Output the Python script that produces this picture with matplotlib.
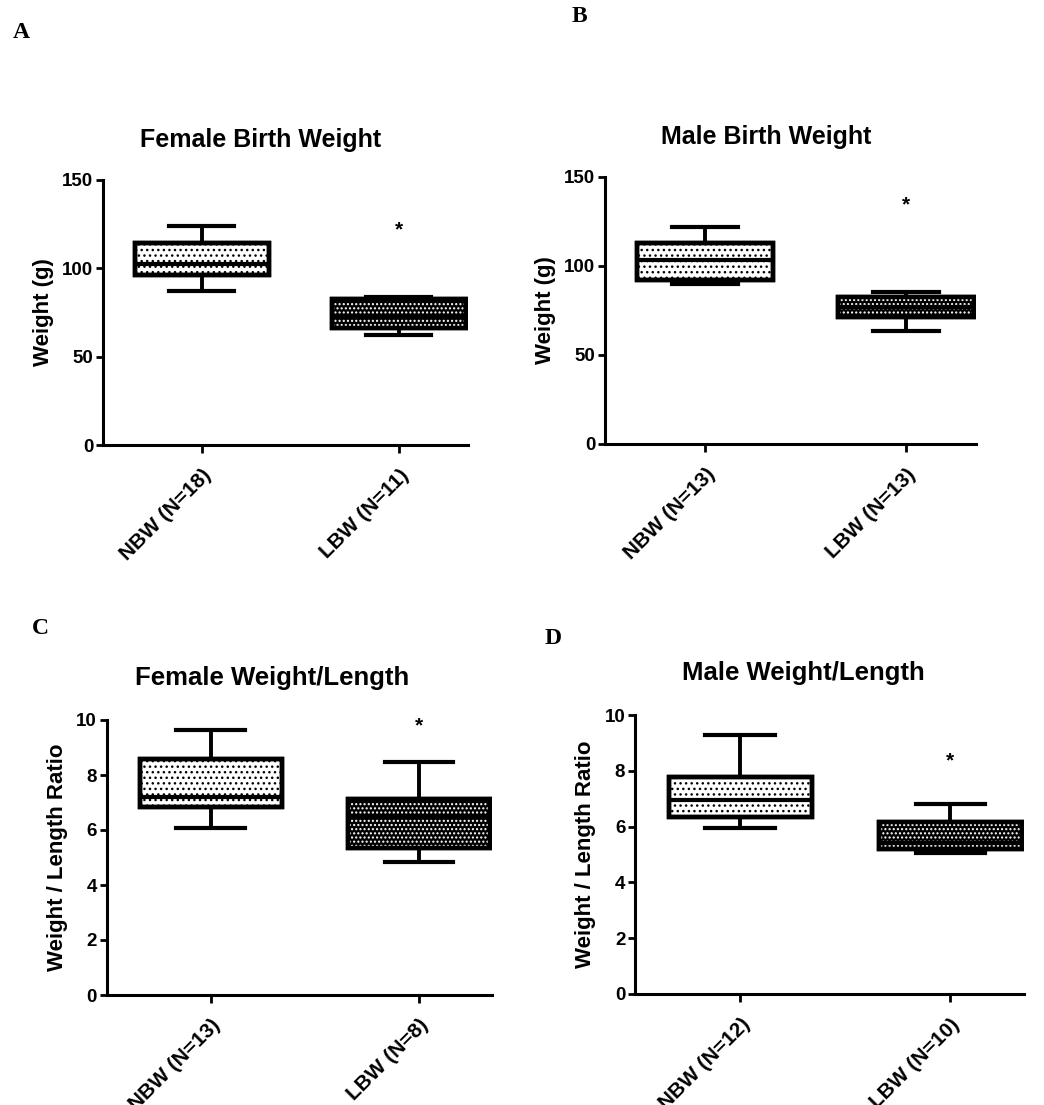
import matplotlib
matplotlib.use("Agg")
import matplotlib.pyplot as plt
from matplotlib.patches import PathPatch

plt.rcParams['font.family'] = ['Liberation Sans', 'DejaVu Sans']
plt.rcParams['font.weight'] = 'bold'

# ---------------- data ----------------
groups_A = ["NBW (N=18)", "LBW (N=11)"]
groups_B = ["NBW (N=13)", "LBW (N=13)"]
groups_C = ["NBW (N=13)", "LBW (N=8)"]
groups_D = ["NBW (N=12)", "LBW (N=10)"]

# [NBW, LBW] : min, q1, median, q3, max
A_min = [87.2, 62.0]
A_q1 = [96.0, 66.4]
A_med = [102.3, 73.0]
A_q3 = [114.5, 82.4]
A_max = [124.1, 84.0]

B_min = [89.8, 63.2]
B_q1 = [92.0, 71.4]
B_med = [103.3, 77.0]
B_q3 = [112.6, 82.7]
B_max = [121.8, 85.1]

C_min = [6.08, 4.85]
C_q1 = [6.82, 5.33]
C_med = [7.21, 6.48]
C_q3 = [8.58, 7.14]
C_max = [9.64, 8.48]

D_min = [5.95, 5.04]
D_q1 = [6.33, 5.20]
D_med = [6.95, 5.40]
D_q3 = [7.79, 6.15]
D_max = [9.28, 6.81]

star_y = [122, 134, 9.8, 8.35]

titles = ["Female Birth Weight", "Male Birth Weight",
          "Female Weight/Length", "Male Weight/Length"]
ylabels = ["Weight (g)", "Weight (g)",
           "Weight / Length Ratio", "Weight / Length Ratio"]
yticks_w = [0, 50, 100, 150]
yticks_r = [0, 2, 4, 6, 8, 10]
panel_letters = ["A", "B", "C", "D"]

# ---------------- figure ----------------
W, H = 1044, 1105
fig = plt.figure(figsize=(W / 100, H / 100), dpi=100)


def px_axes(l, r, t, b):
    return fig.add_axes([l / W, (H - b) / H, (r - l) / W, (b - t) / H])


axes = [
    px_axes(103, 468, 180, 445),
    px_axes(605, 976, 176.7, 444),
    px_axes(106.7, 492, 720, 995),
    px_axes(635, 1024, 715, 994),
]

data = [
    (groups_A, A_min, A_q1, A_med, A_q3, A_max, yticks_w),
    (groups_B, B_min, B_q1, B_med, B_q3, B_max, yticks_w),
    (groups_C, C_min, C_q1, C_med, C_q3, C_max, yticks_r),
    (groups_D, D_min, D_q1, D_med, D_q3, D_max, yticks_r),
]

for i, (ax, (g, mn, q1, md, q3, mx, yt)) in enumerate(zip(axes, data)):
    stats = []
    for k in range(2):
        stats.append(dict(label=g[k], whislo=mn[k], q1=q1[k], med=md[k],
                          q3=q3[k], whishi=mx[k], fliers=[]))
    res = ax.bxp(stats, positions=[1, 2], widths=0.68, capwidths=0.33,
                 patch_artist=True, showfliers=False,
                 boxprops=dict(linewidth=3.2, edgecolor='black'),
                 medianprops=dict(color='black', linewidth=3.0),
                 whiskerprops=dict(color='black', linewidth=2.8),
                 capprops=dict(color='black', linewidth=3.0))
    faces = ['white', 'black']
    hatch_col = ['black', 'white']
    hatches = ['...', '....']
    for k, box in enumerate(res['boxes']):
        box.set_facecolor(faces[k])
        box.set_zorder(2)
        over = PathPatch(box.get_path(), transform=box.get_transform(),
                         facecolor='none', edgecolor=hatch_col[k],
                         hatch=hatches[k], linewidth=0, zorder=2.1)
        ax.add_patch(over)
        edge = PathPatch(box.get_path(), transform=box.get_transform(),
                         facecolor='none', edgecolor='black',
                         linewidth=3.2, zorder=2.3)
        ax.add_patch(edge)
    for m in res['medians']:
        m.set_zorder(2.2)
    ax.text(2, star_y[i], "*", ha='center', va='center', fontsize=15,
            fontweight='bold')

    ax.set_xlim(0.5, 2.35)
    ax.set_ylim(0, yt[-1])
    ax.set_yticks(yt)
    ax.set_xticks([1, 2])
    ax.set_xticklabels(g, rotation=45, ha='right', va='top',
                       rotation_mode='anchor', fontsize=15,
                       fontweight='bold')
    ax.tick_params(axis='y', labelsize=13.5, width=2, length=5,
                   direction='out', pad=2)
    ax.tick_params(axis='x', width=2, length=6, direction='out', pad=9)
    for lab in ax.get_yticklabels():
        lab.set_fontweight('bold')
    ax.spines['top'].set_visible(False)
    ax.spines['right'].set_visible(False)
    ax.spines['left'].set_linewidth(2.2)
    ax.spines['bottom'].set_linewidth(2.2)
    ax.set_ylabel(ylabels[i], fontsize=16, fontweight='bold', labelpad=6)

# titles & panel letters (figure pixel positions)
title_pos = [(261, 140), (766, 137), (272, 678), (803, 673)]
title_size = [18, 18, 18.5, 18.5]
letter_pos = [(21, 32), (579, 17), (40, 628), (553, 638)]
for t, (x, y), s in zip(titles, title_pos, title_size):
    fig.text(x / W, 1 - y / H, t, ha='center', va='center', fontsize=s,
             fontweight='bold')
for t, (x, y) in zip(panel_letters, letter_pos):
    fig.text(x / W, 1 - y / H, t, ha='center', va='center', fontsize=17,
             fontweight='bold', family=['Liberation Serif', 'DejaVu Serif'])

fig.savefig("out.png", dpi=100)
